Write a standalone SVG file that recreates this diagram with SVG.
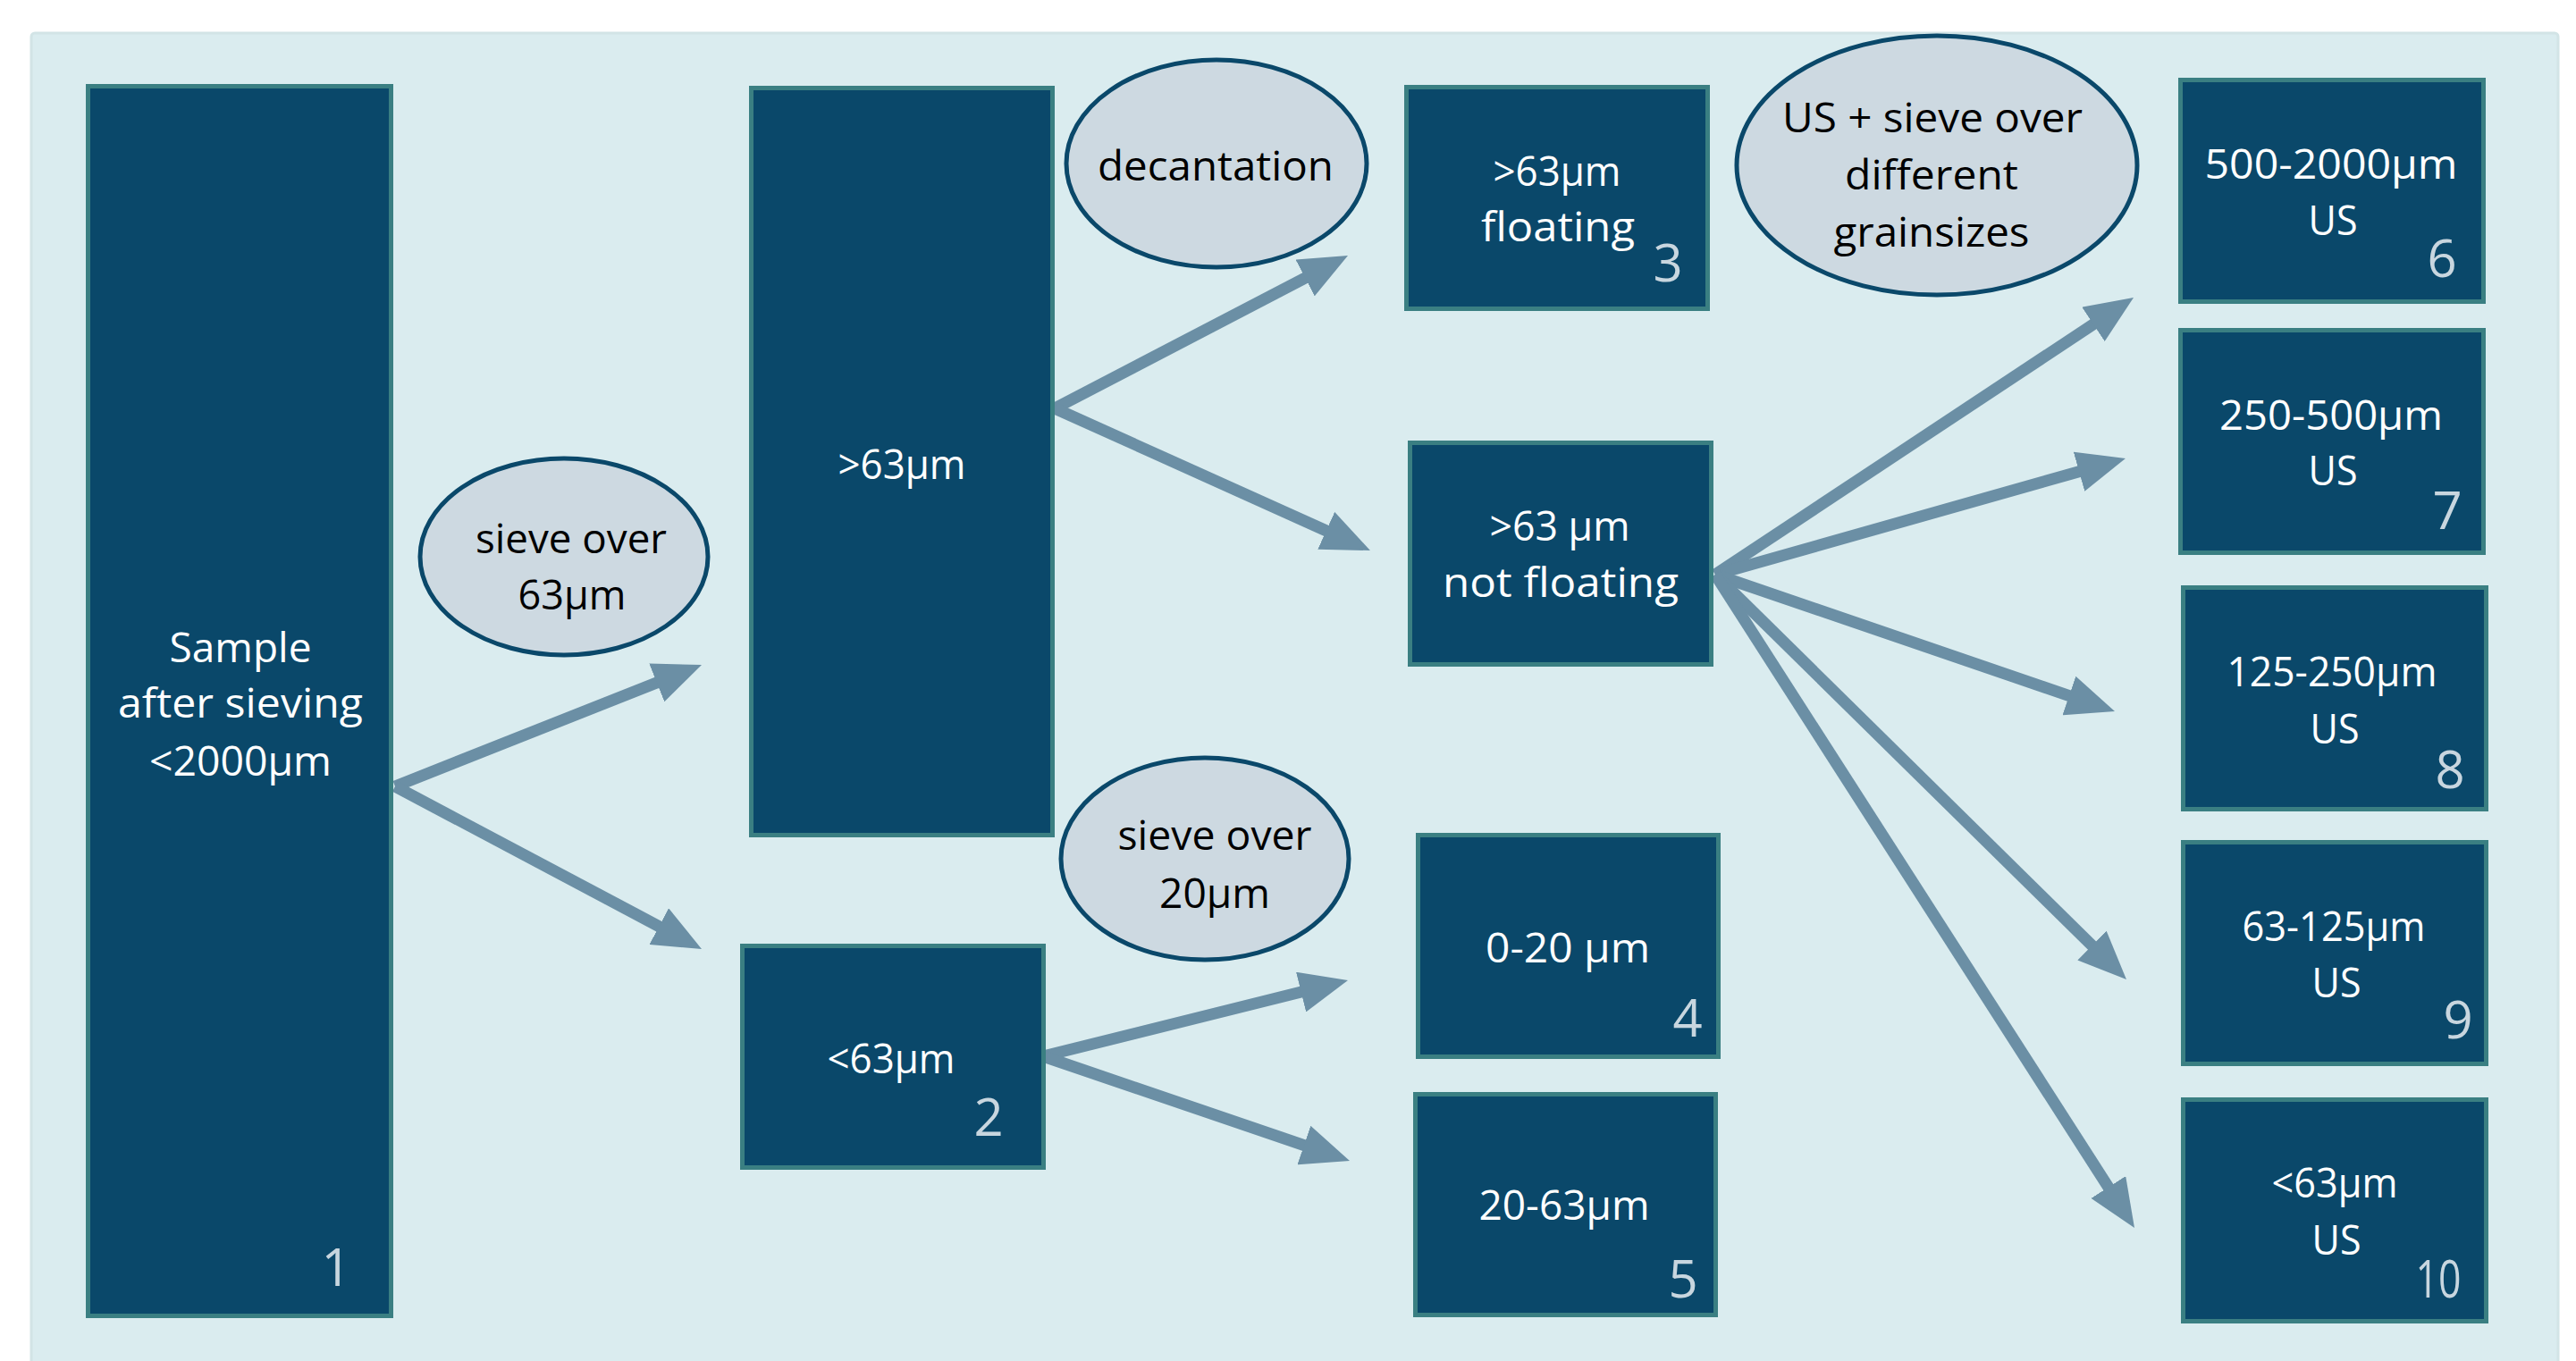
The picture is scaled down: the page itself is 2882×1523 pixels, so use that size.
<svg xmlns="http://www.w3.org/2000/svg" width="2882" height="1523" viewBox="0 0 2882 1523">
<style>
.node{fill:#0a486a;stroke:#3a7f82;stroke-width:5}
.oval{fill:#cdd9e1;stroke:#0a486a;stroke-width:5}
.t{font-family:"Open Sans","Noto Sans",sans-serif;font-size:46px;fill:#ffffff;text-anchor:middle}
.k{font-family:"Open Sans","Noto Sans",sans-serif;font-size:46px;fill:#000000;text-anchor:middle}
.n{font-family:"Open Sans","Noto Sans",sans-serif;font-size:58px;fill:#c8d6df;text-anchor:middle}
.arr{stroke:#6b8fa5;stroke-width:13;fill:none;marker-end:url(#ah)}
</style>
<defs>
<marker id="ah" markerUnits="userSpaceOnUse" markerWidth="54" markerHeight="46" viewBox="0 0 54 46" refX="24" refY="23" orient="auto">
<path d="M0,0 L54,23 L0,46 z" fill="#6b8fa5"/>
</marker>
</defs>
<rect x="35" y="37" width="2827" height="1490" rx="4" fill="#daecef" stroke="#d2e4e6" stroke-width="3"/>

<g id="connectors">
<line class="arr" x1="442" y1="880" x2="757.1" y2="755.1"/>
<line class="arr" x1="442" y1="880" x2="758.5" y2="1047.9"/>
<line class="arr" x1="1180" y1="457" x2="1481.4" y2="299.9"/>
<line class="arr" x1="1180" y1="457" x2="1505.6" y2="603.7"/>
<line class="arr" x1="1167" y1="1182" x2="1478.9" y2="1104.3"/>
<line class="arr" x1="1167" y1="1182" x2="1481.6" y2="1289.3"/>
<line class="arr" x1="1919" y1="643" x2="2362.0" y2="349.6"/>
<line class="arr" x1="1919" y1="643" x2="2349.1" y2="521.2"/>
<line class="arr" x1="1919" y1="643" x2="2337.6" y2="786.3"/>
<line class="arr" x1="1919" y1="643" x2="2357.6" y2="1074.9"/>
<line class="arr" x1="1919" y1="643" x2="2371.8" y2="1348.7"/>
</g>

<g id="node1">
<rect class="node" x="98.5" y="96.5" width="339" height="1376"/>
<text class="t" x="269" y="741" textLength="159" lengthAdjust="spacingAndGlyphs">Sample</text>
<text class="t" x="269" y="803" textLength="274" lengthAdjust="spacingAndGlyphs">after sieving</text>
<text class="t" x="269" y="868" textLength="204" lengthAdjust="spacingAndGlyphs">&lt;2000µm</text>
<text class="n" x="376" y="1439">1</text>
</g>

<g id="op-sieve63">
<ellipse class="oval" cx="631" cy="623" rx="161" ry="110"/>
<text class="k" x="639" y="619" textLength="214" lengthAdjust="spacingAndGlyphs">sieve over</text>
<text class="k" x="640" y="682" textLength="121" lengthAdjust="spacingAndGlyphs">63µm</text>
</g>

<g id="node-gt63">
<rect class="node" x="840.5" y="98.5" width="337" height="836"/>
<text class="t" x="1009" y="536" textLength="143" lengthAdjust="spacingAndGlyphs">&gt;63µm</text>
</g>

<g id="node2">
<rect class="node" x="830.5" y="1058.5" width="337" height="248"/>
<text class="t" x="997" y="1201" textLength="143" lengthAdjust="spacingAndGlyphs">&lt;63µm</text>
<text class="n" x="1106" y="1271">2</text>
</g>

<g id="op-decantation">
<ellipse class="oval" cx="1361" cy="183" rx="168" ry="116"/>
<text class="k" x="1360" y="202" textLength="264" lengthAdjust="spacingAndGlyphs">decantation</text>
</g>

<g id="op-sieve20">
<ellipse class="oval" cx="1348" cy="961" rx="161" ry="113"/>
<text class="k" x="1359" y="951" textLength="217" lengthAdjust="spacingAndGlyphs">sieve over</text>
<text class="k" x="1359" y="1016" textLength="124" lengthAdjust="spacingAndGlyphs">20µm</text>
</g>

<g id="node3">
<rect class="node" x="1573.5" y="97.5" width="337" height="248"/>
<text class="t" x="1742" y="208" textLength="143" lengthAdjust="spacingAndGlyphs">&gt;63µm</text>
<text class="t" x="1743" y="270" textLength="172" lengthAdjust="spacingAndGlyphs">floating</text>
<text class="n" x="1866" y="315">3</text>
</g>

<g id="node-notfloating">
<rect class="node" x="1577.5" y="495.5" width="337" height="248"/>
<text class="t" x="1745" y="605" textLength="157" lengthAdjust="spacingAndGlyphs">&gt;63 µm</text>
<text class="t" x="1746" y="668" textLength="264" lengthAdjust="spacingAndGlyphs">not floating</text>
</g>

<g id="node4">
<rect class="node" x="1586.5" y="934.5" width="336" height="248"/>
<text class="t" x="1754" y="1077" textLength="184" lengthAdjust="spacingAndGlyphs">0-20 µm</text>
<text class="n" x="1888" y="1160">4</text>
</g>

<g id="node5">
<rect class="node" x="1583.5" y="1224.5" width="336" height="247"/>
<text class="t" x="1750" y="1365" textLength="191" lengthAdjust="spacingAndGlyphs">20-63µm</text>
<text class="n" x="1883" y="1452">5</text>
</g>

<g id="op-us">
<ellipse class="oval" cx="2167" cy="185" rx="224" ry="145"/>
<text class="k" x="2162" y="148" textLength="336" lengthAdjust="spacingAndGlyphs">US + sieve over</text>
<text class="k" x="2161" y="212" textLength="194" lengthAdjust="spacingAndGlyphs">different</text>
<text class="k" x="2161" y="276" textLength="219" lengthAdjust="spacingAndGlyphs">grainsizes</text>
</g>

<g id="node6">
<rect class="node" x="2439.5" y="89.5" width="339" height="248"/>
<text class="t" x="2608" y="200" textLength="283" lengthAdjust="spacingAndGlyphs">500-2000µm</text>
<text class="t" x="2610" y="263" textLength="55" lengthAdjust="spacingAndGlyphs">US</text>
<text class="n" x="2732" y="310">6</text>
</g>

<g id="node7">
<rect class="node" x="2439.5" y="369.5" width="339" height="249"/>
<text class="t" x="2608" y="481" textLength="250" lengthAdjust="spacingAndGlyphs">250-500µm</text>
<text class="t" x="2610" y="543" textLength="55" lengthAdjust="spacingAndGlyphs">US</text>
<text class="n" x="2738" y="592">7</text>
</g>

<g id="node8">
<rect class="node" x="2442.5" y="657.5" width="339" height="248"/>
<text class="t" x="2609" y="768" textLength="235" lengthAdjust="spacingAndGlyphs">125-250µm</text>
<text class="t" x="2612" y="832" textLength="55" lengthAdjust="spacingAndGlyphs">US</text>
<text class="n" x="2741" y="882">8</text>
</g>

<g id="node9">
<rect class="node" x="2442.5" y="942.5" width="339" height="248"/>
<text class="t" x="2611" y="1053" textLength="205" lengthAdjust="spacingAndGlyphs">63-125µm</text>
<text class="t" x="2614" y="1116" textLength="55" lengthAdjust="spacingAndGlyphs">US</text>
<text class="n" x="2750" y="1162">9</text>
</g>

<g id="node10">
<rect class="node" x="2442.5" y="1230.5" width="339" height="248"/>
<text class="t" x="2612" y="1340" textLength="141" lengthAdjust="spacingAndGlyphs">&lt;63µm</text>
<text class="t" x="2614" y="1404" textLength="55" lengthAdjust="spacingAndGlyphs">US</text>
<text class="n" x="2728" y="1452" textLength="51" lengthAdjust="spacingAndGlyphs">10</text>
</g>
</svg>
